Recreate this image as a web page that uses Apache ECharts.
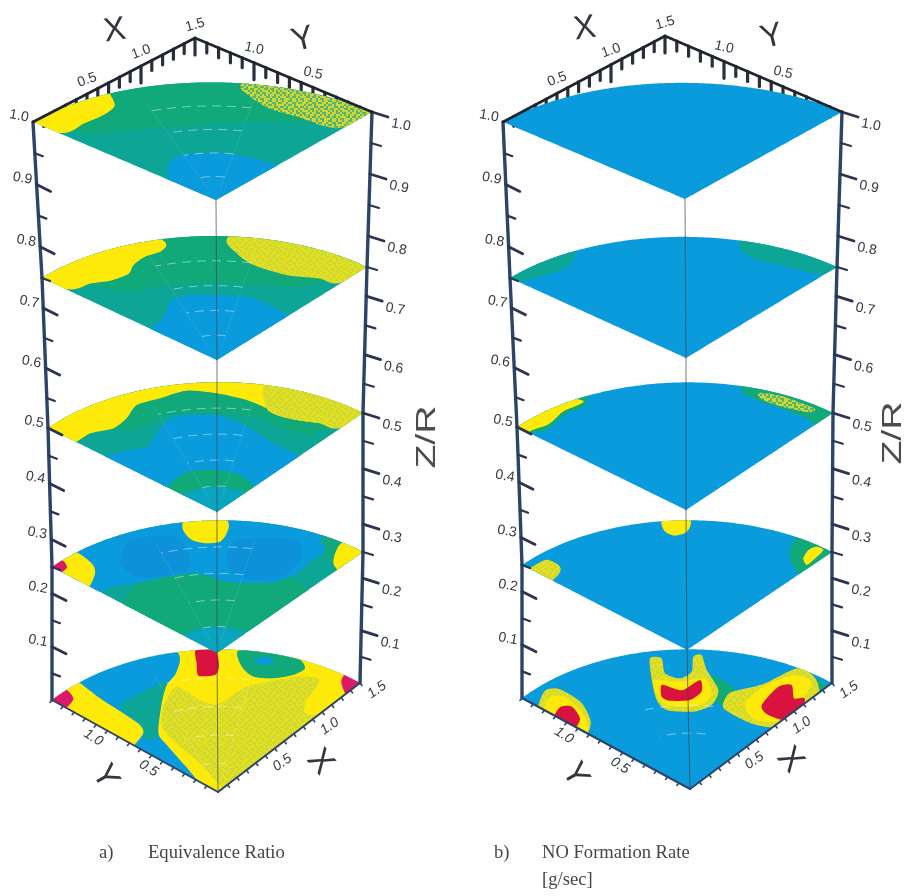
<!DOCTYPE html>
<html><head><meta charset="utf-8">
<style>html,body{margin:0;padding:0;background:#fff}#c{width:904px;height:896px}</style>
<script src="https://cdn.jsdelivr.net/npm/echarts@6/dist/echarts.min.js"></script>
</head><body><div id="c"></div>
<script>
// ---------- values ----------
const zLevels = [0, 0.25, 0.5, 0.75, 1];
const zTickLabels = ['0.1','0.2','0.3','0.4','0.5','0.6','0.7','0.8','0.9','1.0'];
const xyTickLabels = ['0.5','1.0','1.5'];
const gridRadii = [0.3, 0.6, 0.9, 1.2];
const gridAngles = [30, 60];
const whole = [[-.1,-.1],[1.9,-.1],[1.9,1.9],[-.1,1.9]];
const apexZone = [[-.1,.3],[.2,.22],[.3,-.1],[-.1,-.1]];

// contour regions in (X, Y) for every Z level: [class, outline]
const eqZ100 = [
 ['teal', whole],
 ['green', [[.3,1.0],[.6,.75],[.9,.5],[1.1,.25],[1.3,.1],[1.9,.1],[1.9,1.9],[.1,1.9],[.1,1.2]]],
 ['blue', [[0,.40],[.14,.51],[.287,.54],[.461,.39],[.547,.217],[.596,0],[.596,-.05],[-.05,-.05],[-.05,.4]]],
 ['speck', [[1.25,.85],[1.146,.695],[1.108,.514],[1.144,.314],[1.227,0],[1.9,-.1],[1.9,.85]]],
 ['yellow', [[.65,1.5],[.505,1.26],[.36,1.23],[.196,1.25],[0,1.29],[-.1,1.9],[.65,1.9]]]
];
const eqZ075 = [
 ['teal', whole],
 ['green', [[.2,1.05],[.45,.85],[.75,.55],[1.0,.2],[1.2,.1],[1.9,.1],[1.9,1.9],[.1,1.9]]],
 ['blue', [[0,.575],[.17,.6],[.335,.688],[.468,.658],[.597,.512],[.724,.307],[.72,0],[.72,-.05],[-.05,-.05],[-.05,.575]]],
 ['olive', [[1.19,.92],[1.065,.743],[1.03,.57],[1.08,.329],[1.19,.14],[1.25,0],[1.9,-.1],[1.9,.92]]],
 ['yellow', [[.87,1.22],[.767,1.13],[.64,1.165],[.514,1.156],[.41,1.11],[.27,1.145],[.16,1.22],[0,1.30],[-.1,1.9],[.87,1.9]]]
];
const eqZ050 = [
 ['teal', whole],
 ['green', [[.3,1.1],[.7,.95],[1.0,.5],[1.1,.1],[1.9,.1],[1.9,1.9],[.1,1.9]]],
 ['green', [[-.1,.50],[.2,.45],[.4,.3],[.42,-.1],[.3,-.1],[.2,.2],[-.1,.3]]],
 ['blue', [[-.1,1.0],[.164,.914],[.273,.846],[.403,.90],[.528,.932],[.658,.927],[.847,.734],[.875,.493],[.845,.231],[.82,-.1],[.40,-.1],[.423,.161],[.365,.319],[.221,.46],[-.1,.479]]],
 ['sky', apexZone],
 ['yellow', [[-.1,1.30],[.136,1.244],[.28,1.163],[.426,1.171],[.586,1.219],[.746,1.151],[.929,1.072],[1.037,.898],[1.108,.694],[1.122,.529],[1.107,.427],[1.15,.287],[1.223,.143],[1.281,0],[1.9,-.1],[1.9,1.9],[-.1,1.9]]],
 ['olive', [[1.33,.72],[1.122,.529],[1.107,.427],[1.15,.287],[1.223,.143],[1.281,0],[1.9,-.1],[1.9,.72]]]
];
const eqZ025 = [
 ['teal', whole],
 ['green', [[-.1,.79],[.121,.898],[.4,1.0],[.8,.9],[1.0,.5],[.95,.1],[.89,-.1],[.37,-.1],[.295,.112],[.148,.285],[-.1,.366]]],
 ['green', [[1.426,.325],[1.349,.212],[1.21,-.1],[1.9,-.1],[1.9,.4]]],
 ['blue', [[-.1,1.16],[.104,1.034],[.235,.938],[.424,.833],[.585,.702],[.647,.485],[.75,.334],[.867,.226],[1.027,.184],[1.185,.202],[1.349,.212],[1.426,.325],[1.55,.4],[1.9,1.9],[-.1,1.9]]],
 ['deep', [[.573,1.298],[.807,1.081],[.669,.837],[.569,.779],[.409,.85],[.291,.988],[.331,1.175]]],
 ['deep', [[.831,.647],[1.044,.745],[1.309,.434],[1.154,.267],[.881,.238],[.733,.47]]],
 ['sky', apexZone],
 ['yellow', [[.96,1.16],[.872,1.063],[.847,.965],[.883,.876],[.956,.818],[1.056,.847],[1.17,.94],[1.4,1.4]]],
 ['yellow', [[.22,1.55],[.206,1.322],[.136,1.229],[0,1.16],[-.1,1.16],[-.1,1.9]]],
 ['magenta', [[.1,1.55],[.07,1.426],[0,1.41],[-.1,1.41],[-.1,1.9]]],
 ['yellow', [[1.25,-.1],[1.252,.035],[1.302,.094],[1.40,.152],[1.5,.18],[1.9,.18],[1.9,-.1]]]
];
const eqZ000 = [
 ['blue', whole],
 ['teal', [[.25,1.1],[.36,1.1],[.65,1.02],[.5,.8],[.18,.7],[.1,.73],[.19,.867]]],
 ['yellow', [[.95,1.2],[.779,1.04],[.628,1.0],[.46,.902],[.205,.714],[.142,.571],[0,.194],[-.1,.19],[-.1,-.1],[1.9,-.1],[1.9,1.9],[.95,1.9]]],
 ['olive', [[.44,.87],[.659,.937],[.655,.723],[.703,.6],[.969,.57],[1.27,.376],[1.347,.231],[1.128,.164],[1.014,.082],[1.03,-.1],[.09,-.1],[.149,.29],[.254,.711]]],
 ['green', [[1.22,.86],[1.107,.733],[1.078,.604],[1.153,.487],[1.269,.405],[1.373,.389],[1.42,.478],[1.36,.65]]],
 ['blue', [[1.211,.717],[1.215,.63],[1.294,.592],[1.297,.67]]],
 ['red', [[1.04,1.09],[1.12,.98],[1.006,.852],[.922,.816],[.843,.898],[.934,.992]]],
 ['magenta', [[1.5,.14],[1.387,.06],[1.34,-.1],[1.9,-.1],[1.9,.14]]],
 ['yellow', [[.27,1.55],[.226,1.259],[.21,1.035],[.19,.867],[.138,.793],[0,.76],[-.1,.76],[-.1,1.9],[.27,1.9]]],
 ['magenta', [[.14,1.55],[.108,1.40],[0,1.37],[-.1,1.37],[-.1,1.9]]]
];
const noZ100 = [['blue', whole]];
const noZ075 = [
 ['blue', whole],
 ['teal', [[.56,1.45],[.378,1.313],[.185,1.346],[0,1.42],[-.1,1.42],[-.1,1.9],[.56,1.9]]],
 ['teal', [[1.32,.68],[1.224,.476],[1.276,.293],[1.326,.11],[1.40,0],[1.9,-.1],[1.9,.68]]]
];
const noZ050 = [
 ['blue', whole],
 ['green', [[.66,1.45],[.469,1.319],[.338,1.352],[.102,1.326],[0,1.38],[-.1,1.38],[-.1,1.9],[.66,1.9]]],
 ['yellow', [[.52,1.36],[.34,1.385],[.165,1.36],[.03,1.40],[-.1,1.40],[-.1,1.9],[.40,1.6]]],
 ['green', [[1.33,.66],[1.283,.488],[1.311,.336],[1.338,.093],[1.33,-.1],[1.9,-.1],[1.9,.66]]],
 ['speck', [[1.36,.53],[1.31,.48],[1.33,.32],[1.40,.13],[1.46,.13],[1.43,.38]]]
];
const noZ025 = [
 ['blue', whole],
 ['yellow', [[1.01,1.12],[.93,1.017],[.939,.935],[1.026,.903],[1.15,.98],[1.3,1.3]]],
 ['green', [[1.48,.3],[1.257,.169],[1.17,-.1],[1.9,-.1],[1.9,.3]]],
 ['yellow', [[1.316,.1],[1.273,.032],[1.347,.035],[1.479,.06],[1.477,.12],[1.412,.137]]],
 ['olive', [[-.1,1.42],[.147,1.42],[.16,1.30],[.086,1.24],[-.1,1.23]]]
];
const noZ000 = [
 ['blue', whole],
 ['olive', [[-.1,1.27],[.15,1.43],[.24,1.37],[.225,1.16],[.1,.97],[-.1,.90]]],
 ['yellow', [[-.1,1.23],[.12,1.36],[.2,1.28],[.15,1.09],[.05,.95],[-.1,.92]]],
 ['red', [[-.1,1.16],[.09,1.24],[.15,1.18],[.08,1.05],[-.1,1.0]]],
 ['green', [[1.02,.70],[1.02,.47],[.86,.38],[.83,.48]]],
 ['olive', [[.893,1.113],[.945,1.053],[.837,.931],[.863,.819],[.969,.804],[1.10,.90],[1.151,.869],[1.05,.739],[.938,.539],[.785,.47],[.649,.519],[.544,.668],[.582,.79],[.724,.953]]],
 ['yellow', [[.731,.945],[.836,.796],[.966,.698],[.908,.574],[.79,.519],[.675,.571],[.585,.703],[.616,.804]]],
 ['red', [[.727,.868],[.751,.784],[.782,.721],[.938,.703],[.85,.615],[.73,.617],[.635,.716],[.631,.787]]],
 ['green', [[1.46,.24],[1.30,.06],[1.24,-.1],[1.42,-.1],[1.46,.06]]],
 ['olive', [[.82,.40],[.97,.46],[1.18,.35],[1.47,.28],[1.46,.11],[1.25,-.1],[.95,-.1],[.82,.1],[.80,.28]]],
 ['yellow', [[.946,.309],[1.165,.329],[1.394,.255],[1.421,.114],[1.282,.056],[1.176,.042],[.937,.018],[.86,.162]]],
 ['red', [[1.007,.211],[1.231,.252],[1.305,.195],[1.205,.09],[1.25,.03],[1.02,-.1],[.955,.108]]]
];
const eqSlices = [eqZ000, eqZ025, eqZ050, eqZ075, eqZ100];
const noSlices = [noZ000, noZ025, noZ050, noZ075, noZ100];

// ---------- projection of the two 3-D frames onto the page ----------
const frames = [
 {O:[[218,792],[217,653],[217,512],[217,360],[216,200]],
  R:[[360,683],[363,552],[363,413],[367,267],[372,112]],
  L:[[52,700],[52,567],[48,428],[42,278],[33,122]], peak:[195,38],
  titles:[['X',115,31,8],['Y',303,40,14],['Y',105,777,-60],['X',320,762,-50],['Z/R',427,437,90]],
  slices:eqSlices},
 {O:[[690,789],[687,650],[686,510],[686,358],[685,199]],
  R:[[832,683],[832,552],[833,413],[837,267],[842,112]],
  L:[[522,698],[522,565],[517,427],[510,278],[503,122]], peak:[665,36],
  titles:[['X',585,29,8],['Y',772,37,14],['Y',575,775,-60],['X',790,760,-50],['Z/R',893,433,90]],
  slices:noSlices}
];
const lerp=(a,b,t)=>[a[0]+(b[0]-a[0])*t,a[1]+(b[1]-a[1])*t];
function knot(list,z){
  const s=Math.min(3,Math.floor(z/0.25+1e-9));
  return lerp(list[s],list[s+1],(z-zLevels[s])/0.25);
}
function project(f,X,Y,z){
  const o=knot(f.O,z),r=knot(f.R,z),l=knot(f.L,z);
  return [o[0]+(X/1.5)*(r[0]-o[0])+(Y/1.5)*(l[0]-o[0]), o[1]+(X/1.5)*(r[1]-o[1])+(Y/1.5)*(l[1]-o[1])];
}
// closed cardinal spline through the read contour points
function spline(p){
  const out=[],n=p.length,c=0.36,steps=6;
  for(let i=0;i<n;i++){
    const p0=p[(i-1+n)%n],p1=p[i],p2=p[(i+1)%n],p3=p[(i+2)%n];
    const m1=[c*(p2[0]-p0[0]),c*(p2[1]-p0[1])],m2=[c*(p3[0]-p1[0]),c*(p3[1]-p1[1])];
    for(let k=0;k<steps;k++){
      const t=k/steps,t2=t*t,t3=t2*t;
      const h1=2*t3-3*t2+1,h2=t3-2*t2+t,h3=-2*t3+3*t2,h4=t3-t2;
      out.push([h1*p1[0]+h2*m1[0]+h3*p2[0]+h4*m2[0],h1*p1[1]+h2*m1[1]+h3*p2[1]+h4*m2[1]]);
    }
  }
  return out;
}
function toDomain(p){
  let x=Math.max(0,p[0]),y=Math.max(0,p[1]);
  const r=Math.hypot(x,y);
  if(r>1.5){x*=1.5/r;y*=1.5/r;}
  return [x,y];
}
function outline(points){
  const p=points===whole?points:spline(points);
  const out=[];
  for(let i=0;i<p.length;i++){
    const a=p[i],b=p[(i+1)%p.length];
    const n=Math.max(1,Math.ceil(Math.hypot(b[0]-a[0],b[1]-a[1])/0.025));
    for(let k=0;k<n;k++){out.push(toDomain(lerp(a,b,k/n)));}
  }
  return out;
}

// grain tiles: printed halftone of the contour classes
const grain=['1011001101','0110110010','1101001011','0010111001','1100100110','0111010101','1001101100','0101011011','1110010010','0011101101'];
function tile(base,dot){
  const c=document.createElement('canvas');c.width=c.height=20;
  const g=c.getContext('2d');
  g.fillStyle=base;g.fillRect(0,0,20,20);
  g.fillStyle=dot;
  grain.forEach((row,j)=>{[...row].forEach((v,i)=>{if(v==='1')g.fillRect(i*2,j*2,2,2);});});
  return c;
}
const palette={
 blue:'#0a9bdc', deep:'#0d92d9', sky:'#09a5c0', teal:'#0ca596', green:'#11a97a',
 olive:{image:tile('#cfd936','#e4e020'),repeat:'repeat'}, yellow:'#fdea08', red:'#d8133f', magenta:'#dc1a6c',
 speck:{image:tile('#5cb568','#cdd638'),repeat:'repeat'}
};
const ink='#2b3450', axisBlue='#2c4468', labelInk='#363a42';

// ---------- flat tables handed to the series ----------
const regionRows=[];
frames.forEach((f,pi)=>f.slices.forEach((regs,si)=>regs.forEach((r,ri)=>regionRows.push([pi,si,ri]))));

function renderRegion(params,api){
  const f=frames[api.value(0)], si=api.value(1);
  const reg=f.slices[si][api.value(2)];
  const pts=outline(reg[1]).map(p=>api.coord(project(f,p[0],p[1],zLevels[si])));
  return {type:'polygon',shape:{points:pts},style:{fill:palette[reg[0]],stroke:null},silent:true};
}
function seg(api,a,b,w,col,op){
  const p=api.coord(a),q=api.coord(b);
  return {type:'line',shape:{x1:p[0],y1:p[1],x2:q[0],y2:q[1]},style:{stroke:col,lineWidth:w,opacity:op==null?1:op,lineCap:'round'}};
}
// rot: degrees clockwise
function txt(api,s,pos,rot,font,col,stretch){
  const p=api.coord(pos);
  return {type:'text',x:p[0],y:p[1],rotation:-rot*Math.PI/180,scaleX:stretch||1,
    style:{text:s,x:0,y:0,font:font,fill:col,textAlign:'center',textVerticalAlign:'middle',align:'center',verticalAlign:'middle'}};
}
function renderGrid(params,api){
  const f=frames[api.value(0)],si=api.value(1),z=zLevels[si],kids=[];
  const pi=api.value(0);
  if(pi===1&&si!==0)return {type:'group',children:[]};
  gridRadii.forEach((r,ri)=>{
    if(pi===1&&(ri===0||ri===3))return;
    const pts=[];
    for(let t=30;t<=60;t+=2){
      const a=t*Math.PI/180;
      pts.push(api.coord(project(f,r*Math.cos(a),r*Math.sin(a),z)));
    }
    kids.push({type:'polyline',shape:{points:pts},style:{stroke:'#ffffff',lineWidth:1,opacity:.45,fill:null,lineDash:[9,6]}});
  });
  if(pi===0)gridAngles.forEach(t=>{
    const a=t*Math.PI/180;
    kids.push(seg(api,project(f,.15*Math.cos(a),.15*Math.sin(a),z),project(f,1.3*Math.cos(a),1.3*Math.sin(a),z),.7,'#ffffff',.13));
  });
  return {type:'group',children:kids};
}
// hanging ticks of the top edges lie behind the slices
function renderTopTicks(params,api){
  const f=frames[api.value(0)],kids=[],L=f.L[4],R=f.R[4];
  for(let k=1;k<=15;k++){
    const t=k/15,a=lerp(L,f.peak,t),b=lerp(R,f.peak,t),len=k%5===0?17:10;
    kids.push(seg(api,a,[a[0],a[1]+len],3.2,'#2a2f3c'));
    if(k<15)kids.push(seg(api,b,[b[0],b[1]+len],3.2,'#2a2f3c'));
  }
  return {type:'group',children:kids};
}
function renderFrame(params,api){
  const f=frames[api.value(0)],kids=[];
  const num='14px "Liberation Sans"';
  for(let s=0;s<4;s++){
    kids.push(seg(api,f.L[s],f.L[s+1],3.4,axisBlue));
    kids.push(seg(api,f.R[s],f.R[s+1],3.4,axisBlue));
    kids.push(seg(api,f.O[s],f.O[s+1],1,'#3d4150',.7));
  }
  for(let k=1;k<=20;k++){
    const z=k*0.05,l=knot(f.L,z),r=knot(f.R,z),maj=k%2===0;
    if(k<20){
      kids.push(seg(api,l,[l[0]+(maj?14:8),l[1]+(maj?7:3)],maj?2.8:2.2,ink));
    }
    kids.push(seg(api,r,[r[0]+(maj?16:10),r[1]+(maj?5:3)],maj?2.8:2.2,ink));
    if(maj){
      const lab=zTickLabels[k/2-1];
      kids.push(txt(api,lab,[l[0]-14,l[1]-6],10,num,labelInk));
      kids.push(txt(api,lab,[r[0]+29,r[1]+13],10,num,labelInk));
    }
  }
  const L=f.L[4],R=f.R[4],O=f.O[0],Lb=f.L[0],Rb=f.R[0];
  kids.push(seg(api,L,f.peak,2.6,'#20242e'));
  kids.push(seg(api,R,f.peak,2.6,'#20242e'));
  for(let k=5;k<=15;k+=5){
    const t=k/15,a=lerp(L,f.peak,t),b=lerp(R,f.peak,t),lab=xyTickLabels[k/5-1];
    if(k===15){kids.push(txt(api,lab,[a[0],a[1]-13],-16,num,labelInk));}
    else{
      kids.push(txt(api,lab,[a[0],a[1]-14],-20,num,labelInk));
      kids.push(txt(api,lab,[b[0],b[1]-14],13,num,labelInk));
    }
  }
  kids.push(seg(api,O,Rb,2,axisBlue));
  kids.push(seg(api,O,Lb,2,axisBlue));
  for(let k=1;k<=15;k++){
    const t=k/15,a=lerp(O,Rb,t),b=lerp(O,Lb,t);
    kids.push(seg(api,a,[a[0]+2,a[1]+2.5],1.6,axisBlue));
    kids.push(seg(api,b,[b[0]-2,b[1]+2.5],1.6,axisBlue));
    if(k%5===0){
      const lab=xyTickLabels[k/5-1];
      kids.push(txt(api,lab,[a[0]+17,a[1]+7],-35,'italic '+num,labelInk));
      if(k<15)kids.push(txt(api,lab,[b[0]-14,b[1]+7],32,'italic '+num,labelInk));
    }
  }
  f.titles.forEach(tt=>{
    const big=tt[0]==='Z/R';
    kids.push(txt(api,tt[0],[tt[1],tt[2]],-tt[3],(big?'28px':'33px')+' "Liberation Sans"',big?'#4a4c50':'#33363c',big?1.4:1));
  });
  return {type:'group',children:kids};
}

const chart=echarts.init(document.getElementById('c'),null,{renderer:'canvas'});
const sliceRows=[];
frames.forEach((f,pi)=>zLevels.forEach((z,si)=>sliceRows.push([pi,si])));
const caption='18.6px "Liberation Serif"',capCol='#45464a';
const customBase={type:'custom',coordinateSystem:'cartesian2d',clip:false,silent:true,encode:{x:-1,y:-1}};
chart.setOption({
 animation:false,
 backgroundColor:'#ffffff',
 grid:{left:0,right:0,top:0,bottom:0},
 xAxis:{type:'value',min:0,max:904,show:false},
 yAxis:{type:'value',min:0,max:896,inverse:true,show:false},
 series:[
  Object.assign({},customBase,{data:[[0],[1]],renderItem:renderTopTicks,z:0}),
  Object.assign({},customBase,{data:regionRows,renderItem:renderRegion,z:1}),
  Object.assign({},customBase,{data:sliceRows,renderItem:renderGrid,z:2}),
  Object.assign({},customBase,{data:[[0],[1]],renderItem:renderFrame,z:3})
 ],
 graphic:[
  {type:'text',left:99,top:844,style:{text:'a)',font:caption,fill:capCol}},
  {type:'text',left:148,top:844,style:{text:'Equivalence Ratio',font:caption,fill:capCol}},
  {type:'text',left:494,top:844,style:{text:'b)',font:caption,fill:capCol}},
  {type:'text',left:542,top:844,style:{text:'NO Formation Rate',font:caption,fill:capCol}},
  {type:'text',left:542,top:871,style:{text:'[g/sec]',font:caption,fill:capCol}}
 ]
});
</script></body></html>
